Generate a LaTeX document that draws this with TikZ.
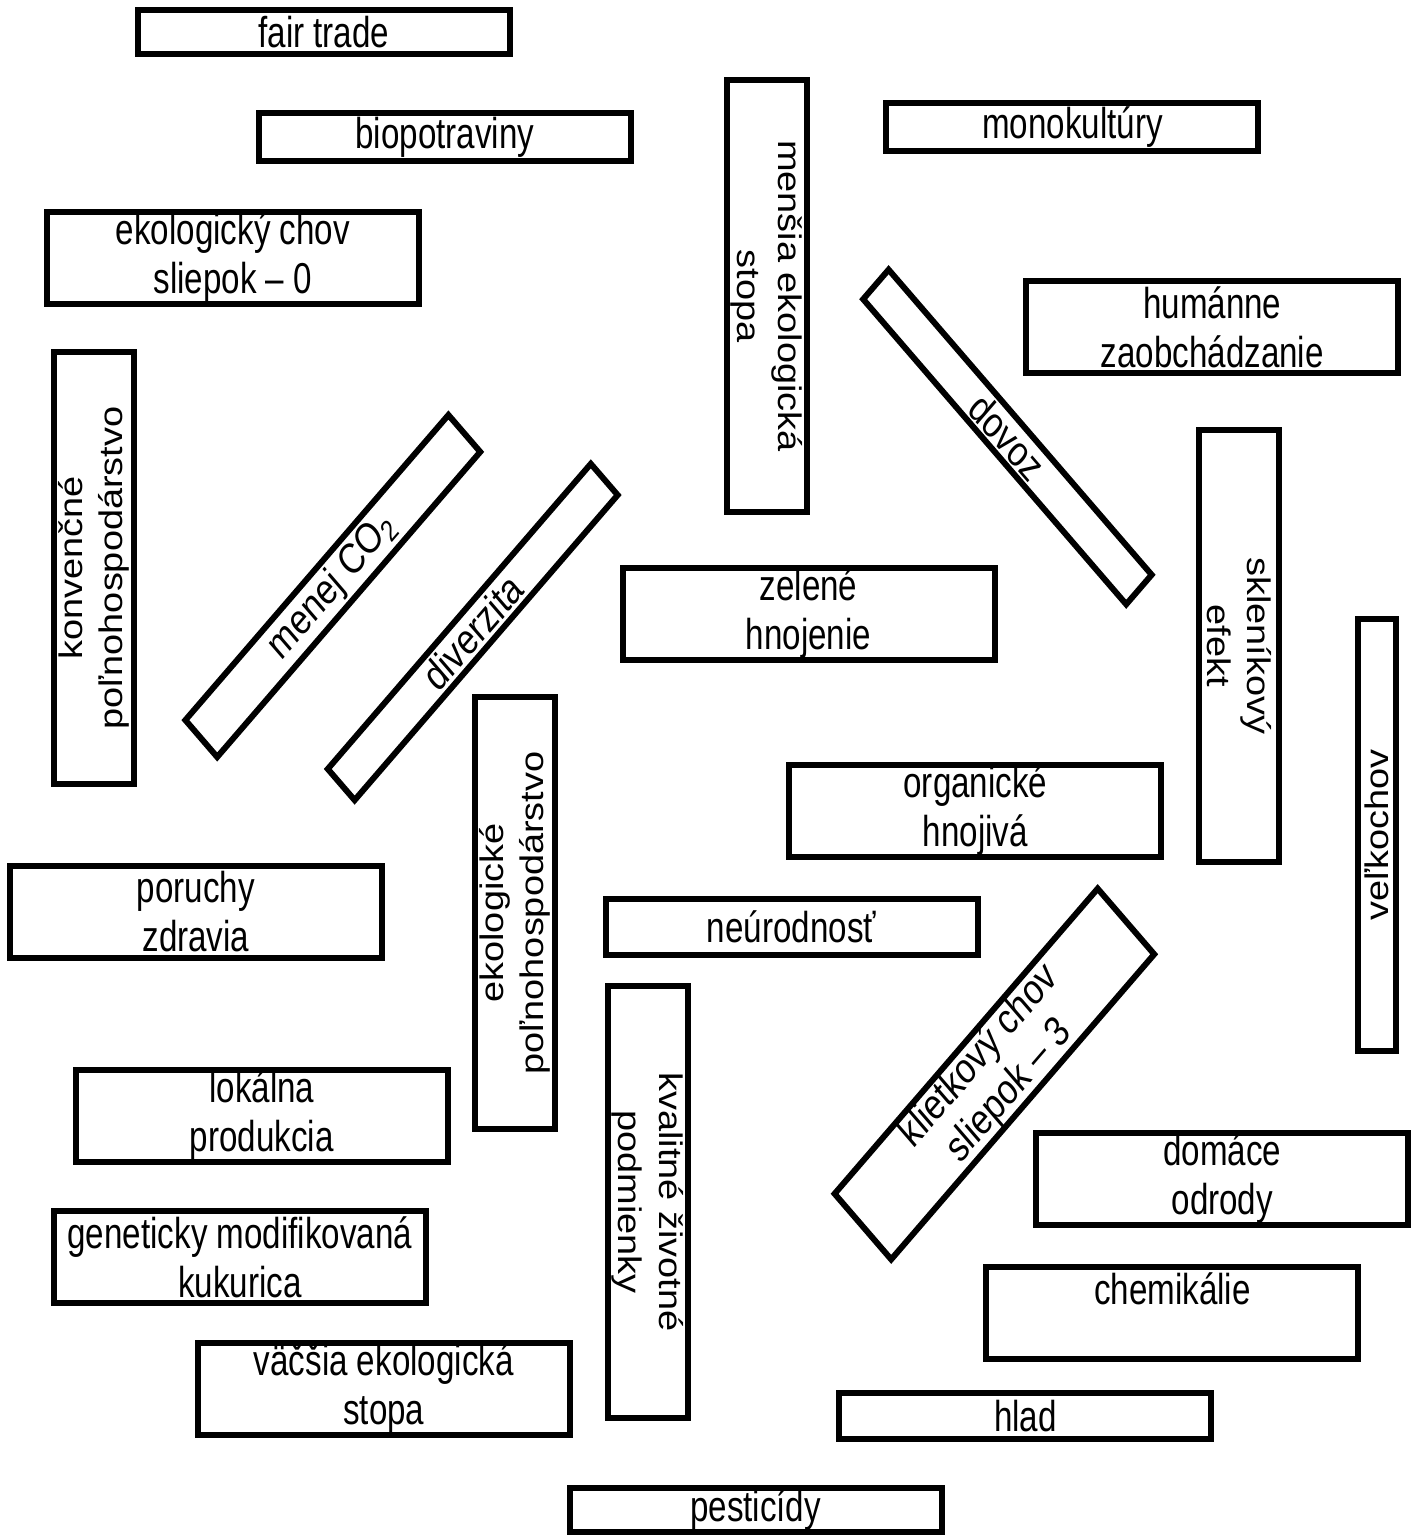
\documentclass[tikz,border=0pt]{standalone}
\usepackage{fontspec}
\setmainfont{Liberation Sans}[FakeStretch=0.89]
\newfontfamily\widefont{Liberation Sans}
\begin{document}
\begin{tikzpicture}[x=0.01cm,y=-0.0086207cm,yscale=1.16,transform shape,
  card/.style={draw,line width=1.7pt,inner sep=0pt,align=center,
    font=\fontsize{10.6}{12}\selectfont,minimum width=3.72cm,minimum height=0.80cm},
  flat/.style={card,minimum height=0.38cm},
  upright/.style={card,font=\widefont\fontsize{9.3}{11.5}\selectfont}]
\useasboundingbox (0,0) rectangle (1418,1535);
% the flat cards
\node[flat] (fairtrade) at (324,32) {fair trade};
\node[flat,minimum height=0.41cm] (biopotraviny) at (445,137) {biopotraviny};
\node[flat,minimum height=0.41cm] (monokultury) at (1073,127) {monokultúry};
\node[flat,minimum height=0.48cm] (neurodnost) at (792,927) {neúrodnosť};
\node[flat,minimum height=0.39cm] (hlad) at (1026,1416) {hlad};
\node[flat] (pesticidy) at (756,1510) {pesticídy};
% the cards with two lines
\node[card] (ekochov) at (233,258) {ekologický chov\\sliepok – 0};
\node[card] (humanne) at (1213,327) {humánne\\zaobchádzanie};
\node[card] (zelene) at (809,614) {zelené\\hnojenie};
\node[card] (organicke) at (976,811) {organické\\hnojivá};
\node[card] (poruchy) at (196,912) {poruchy\\zdravia};
\node[card] (lokalna) at (262,1116) {lokálna\\produkcia};
\node[card] (domace) at (1223,1179) {domáce\\odrody};
\node[card] (gmo) at (240,1257) {geneticky modifikovaná\\kukurica};
\node[card] (chemikalie) at (1173,1313) {chemikálie\\~};
\node[card] (vacsiastopa) at (384,1389) {väčšia ekologická\\stopa};
% the upright cards
\node[upright,rotate=-90] (mensiastopa) at (767,296) {menšia ekologická\\stopa};
\node[upright,rotate=90] (konvencne) at (94,568) {konvenčné\\poľnohospodárstvo};
\node[upright,rotate=-90] (sklenikovy) at (1240,646) {skleníkový\\efekt};
\node[upright,rotate=90,minimum height=0.38cm] (velkochov) at (1378,835) {veľkochov};
\node[upright,rotate=90] (ekopolno) at (515,913) {ekologické\\poľnohospodárstvo};
\node[upright,rotate=-90] (kvalitne) at (648,1202) {kvalitné životné\\podmienky};
% the slanted cards
\node[flat,rotate=-45,minimum height=0.36cm] (dovoz) at (1008,437) {dovoz};
\node[flat,rotate=45,minimum height=0.45cm] (menejco) at (333,586) {menej CO\textsubscript{2}};
\node[flat,rotate=45] (diverzita) at (473,632) {diverzita};
\node[card,rotate=45] (klietkovy) at (995,1074) {klietkový chov\\sliepok – 3};
\end{tikzpicture}
\end{document}
